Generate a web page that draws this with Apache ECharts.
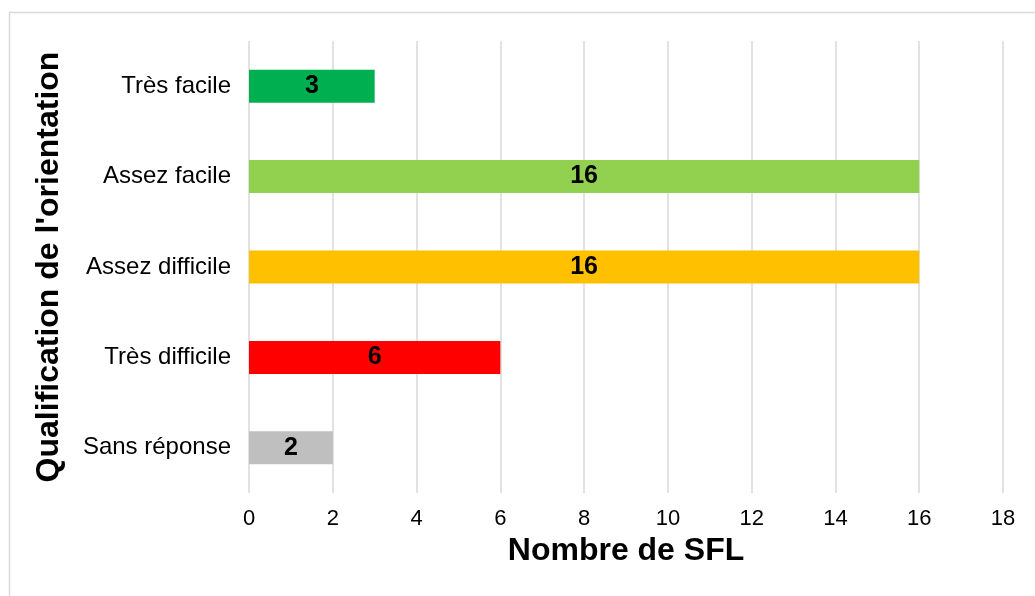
<!DOCTYPE html>
<html><head><meta charset="utf-8">
<script src="https://cdn.jsdelivr.net/npm/echarts@6/dist/echarts.min.js"></script>
<style>html,body{margin:0;padding:0;background:#fff}#c{width:1035px;height:596px}</style>
</head><body><div id="c"></div>
<script>
const categories = ["Très facile", "Assez facile", "Assez difficile", "Très difficile", "Sans réponse"];
const values = [3, 16, 16, 6, 2];
const colors = ["#00B050", "#92D050", "#FFC000", "#FF0000", "#BFBFBF"];
const xTitle = "Nombre de SFL";
const yTitle = "Qualification de l'orientation";

const chart = echarts.init(document.getElementById('c'));
const font = "'Liberation Sans', Arial, Helvetica, sans-serif";
chart.setOption({
  animation: false,
  textStyle: {fontFamily: font},
  graphic: [{type: 'rect', shape: {x: 9.5, y: 12.5, width: 1100, height: 700}, style: {fill: 'none', stroke: '#d9d9d9', lineWidth: 1.5}, silent: true}],
  grid: {left: 249, right: 32, top: 41, bottom: 103},
  xAxis: {
    type: 'value', min: 0, max: 18, interval: 2,
    axisLine: {show: false}, axisTick: {show: false},
    splitLine: {lineStyle: {color: '#d9d9d9', width: 1.5}},
    axisLabel: {color: '#000', fontSize: 22, margin: 15, fontFamily: font},
    name: xTitle, nameLocation: 'middle', nameGap: 42,
    nameTextStyle: {color: '#000', fontSize: 32, fontWeight: 'bold', fontFamily: font}
  },
  yAxis: {
    type: 'category', data: categories, inverse: true,
    axisLine: {show: false}, axisTick: {show: false},
    axisLabel: {color: '#000', fontSize: 24, margin: 18, fontFamily: font},
    name: yTitle, nameLocation: 'middle', nameGap: 184, nameRotate: 90,
    nameTextStyle: {color: '#000', fontSize: 32, fontWeight: 'bold', fontFamily: font}
  },
  series: [{
    type: 'bar', barWidth: 33,
    data: values.map((v, i) => ({value: v, itemStyle: {color: colors[i]}})),
    label: {show: true, position: 'inside', color: '#000', fontSize: 25, fontWeight: 'bold', fontFamily: font}
  }]
});
</script></body></html>
